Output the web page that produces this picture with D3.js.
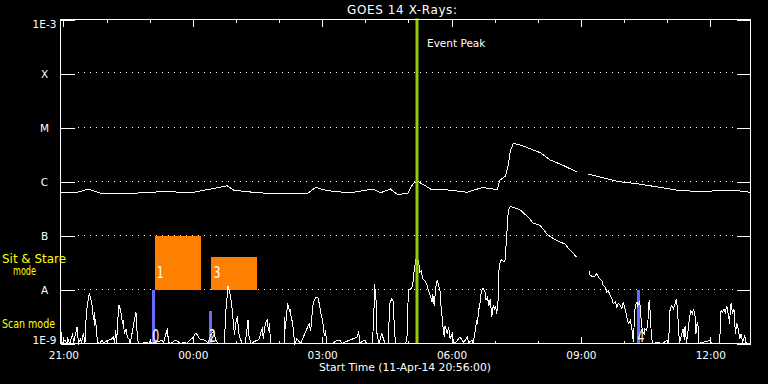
<!DOCTYPE html>
<html>
<head>
<meta charset="utf-8">
<script src="https://cdn.jsdelivr.net/npm/d3@7"></script>
<style>
  html, body { margin: 0; padding: 0; background: #000; }
  svg { display: block; }
  text { font-family: "DejaVu Sans", sans-serif; fill: #fff; }
</style>
</head>
<body>
<div id="chart"></div>
<script>
// start of plot window, length in minutes
var startTime = "2014-04-11T20:56:00Z"
var spanMinutes = 960

// y ticks (W/m^2, log10) and their labels
var yTickLevels = [-9, -8, -7, -6, -5, -4, -3]
var yTickLabels = ["1E-9", "A", "B", "C", "M", "X", "1E-3"]
var gridLevels = [-8, -7, -6, -5, -4]

// GOES long channel: [minutes since start, log10 flux], null = data gap
var longChannel = [
  [0,-6.20],[21,-6.21],[39,-6.14],[56,-6.22],[98,-6.22],[139,-6.19],[185,-6.20],[232,-6.08],
  [241,-6.16],[260,-6.19],[288,-6.22],[344,-6.22],[355,-6.11],[371,-6.17],[403,-6.21],[435,-6.14],
  [445,-6.21],[459,-6.14],[469,-6.24],[483,-6.22],[491,-6.03],[497,-6.00],[504,-6.05],[515,-6.14],
  [542,-6.16],[566,-6.20],[587,-6.11],[608,-6.15],[611,-5.98],[619,-5.90],[623,-5.70],[626,-5.42],
  [630,-5.30],[637,-5.31],[651,-5.38],[668,-5.47],[681,-5.60],[699,-5.70],[718,-5.82],null,
  [734,-5.86],[755,-5.93],[775,-6.00],[802,-6.04],[830,-6.10],[858,-6.16],[890,-6.19],[914,-6.17],
  [941,-6.17],[960,-6.20]
]

// GOES short channel: [minutes since start, log10 flux]
var shortChannel = [
  [0,-8.67],[2,-9],[6,-8.94],[9,-9],[10,-8.91],[13,-9],[17,-8.81],[18,-9],[23,-8.70],[25,-9],
  [28,-8.91],[29,-9],[32,-8.80],[34,-9],[36,-8.42],[40,-8.07],[41,-8.11],[43,-8.23],[44,-8.30],
  [46,-8.57],[47,-8.42],[48,-8.67],[49,-8.54],[50,-8.81],[52,-8.98],[54,-9],[58,-8.94],[60,-9],
  [65,-8.94],[70,-8.93],[74,-8.88],[75,-9],[77,-8.76],[78,-9],[81,-8.28],[83,-8.36],[85,-8.48],
  [86,-8.63],[87,-8.57],[89,-8.82],[91,-8.73],[93,-8.88],[95,-8.91],[97,-9],[105,-8.41],[106,-8.70],
  [108,-8.98],[110,-9],[121,-8.98],[123,-9],[125,-8.94],[127,-9],[142,-8.94],[143,-9],[149,-8.71],
  [150,-8.98],[153,-9],[160,-8.94],[165,-8.98],[167,-9],[173,-8.98],[175,-9],[185,-8.88],[188,-8.81],
  [190,-8.83],[193,-8.91],[197,-8.93],[202,-8.94],[205,-9],[210,-8.81],[213,-8.78],[216,-8.94],
  [218,-8.98],[220,-9],[228,-9],[230,-8.40],[232,-8.11],[233,-7.94],[235,-8.02],[237,-8.17],
  [238,-8.26],[240,-8.54],[242,-8.85],[244,-8.61],[246,-8.50],[248,-8.80],[250,-8.91],[253,-9],
  [257,-9],[261,-8.56],[262,-8.85],[265,-9],[270,-8.96],[276,-8.93],[281,-8.70],[282,-8.91],
  [285,-8.63],[288,-8.56],[289,-8.76],[291,-8.63],[292,-9],[305,-9],[311,-9],[312,-8.51],[313,-8.73],
  [314,-8.54],[316,-8.26],[318,-8.36],[319,-8.42],[320,-8.37],[321,-8.54],[323,-8.60],[324,-8.79],
  [326,-9],[329,-8.91],[334,-9],[346,-8.63],[348,-8.76],[349,-8.63],[351,-8.30],[353,-8.19],
  [356,-8.14],[358,-8.15],[360,-8.26],[362,-8.42],[363,-8.48],[365,-8.60],[367,-8.85],[369,-8.76],
  [370,-9],[378,-9],[385,-8.94],[389,-8.94],[391,-9],[413,-8.88],[415,-8.77],[416,-9],[422,-8.94],
  [424,-8.94],[426,-9],[434,-9],[436,-8.45],[437,-7.89],[439,-8.20],[440,-8.79],[443,-9],[447,-8.82],
  [450,-8.94],[452,-9],[456,-9],[458,-8.26],[460,-8.20],[461,-8.17],[463,-8.23],[464,-8.57],[466,-9],
  [480,-9],[482,-8.91],[484,-8.02],[487,-7.99],[489,-7.96],[491,-7.83],[492,-7.65],[494,-7.49],
  [495,-7.40],[498,-7.46],[500,-7.68],[502,-7.65],[504,-7.80],[508,-7.86],[510,-7.92],[512,-8.02],
  [515,-8.14],[517,-8.23],[518,-8.08],[520,-8.30],[522,-7.96],[524,-7.83],[526,-7.92],[528,-8.02],
  [529,-8.26],[531,-8.51],[532,-8.67],[534,-8.88],[535,-8.67],[538,-8.82],[540,-8.70],[542,-8.91],
  [545,-8.82],[547,-8.98],[549,-9],[554,-8.91],[556,-8.88],[561,-8.98],[566,-8.88],[568,-8.98],
  [573,-8.94],[574,-9],[577,-8.76],[579,-8.57],[580,-8.63],[582,-8.36],[583,-8.33],[585,-8.08],
  [586,-8.02],[588,-7.97],[591,-8.05],[592,-8.20],[594,-8.14],[596,-8.30],[598,-8.17],[600,-8.51],
  [602,-8.30],[604,-8.36],[605,-8.30],[607,-8.45],[609,-8.17],[610,-7.65],[612,-7.47],[614,-7.45],
  [617,-7.49],[619,-7.43],[620,-7.15],[622,-6.78],[623,-6.53],[626,-6.46],[630,-6.48],[635,-6.50],
  [640,-6.53],[644,-6.58],[649,-6.64],[654,-6.71],[658,-6.78],[663,-6.79],[667,-6.81],[672,-6.89],
  [677,-6.98],[686,-7.06],[695,-7.12],[702,-7.16],[707,-7.24],[712,-7.31],[718,-7.40],null,
  [735,-7.65],[737,-7.74],[742,-7.77],[746,-7.71],[750,-7.80],[753,-7.83],[755,-7.92],[758,-7.96],
  [760,-8.05],[762,-8.02],[765,-8.11],[767,-8.17],[769,-8.26],[772,-8.23],[774,-8.33],[776,-8.26],
  [779,-8.30],[781,-8.36],[783,-8.23],[786,-8.39],[788,-8.51],[790,-8.63],[793,-8.57],[795,-8.73],
  [797,-8.98],[799,-8.39],[800,-8.30],[802,-8.23],[803,-8.30],[806,-8.23],[807,-8.45],[809,-8.70],
  [810,-8.79],[812,-8.82],[813,-8.73],[815,-8.76],[817,-8.67],[818,-8.39],[819,-8.19],[821,-8.51],
  [822,-8.88],[824,-9],[830,-8.98],[837,-9],[844,-8.94],[846,-9],[848,-8.39],[850,-8.30],[853,-8.36],
  [855,-8.26],[857,-8.17],[858,-8.33],[860,-8.70],[861,-9],[866,-8.73],[868,-8.94],[869,-8.67],
  [871,-9],[875,-8.54],[877,-8.39],[879,-8.45],[881,-8.36],[883,-8.51],[884,-8.82],[886,-8.60],
  [887,-8.67],[888,-9],[904,-8.94],[906,-9],[917,-9],[919,-8.39],[921,-8.42],[923,-8.36],[925,-8.42],
  [927,-8.30],[929,-8.45],[931,-8.63],[932,-8.33],[933,-8.26],[935,-8.45],[937,-8.36],[939,-8.82],
  [941,-8.63],[943,-8.73],[945,-8.91],[947,-8.82],[949,-8.98],[952,-8.85],[954,-9],[960,-9]
]

// sit & stare observations (orange boxes)
var stareStart = [131, 210]
var stareEnd = [195, 274]
var stareTop = [-7.0, -7.39]
var stareLabels = ["1", "3"]

// scan mode observations (blue bars)
var scanTime = [129, 208, 804]
var scanTop = [-8.0, -8.39, -8.0]
var scanLabels = ["0", "2", "4"]

var eventPeak = 496

var width = 768, height = 384
var plotLeft = 60.5, plotRight = 750.5, plotTop = 19.5, plotBottom = 343.5

var t0 = new Date(startTime)
function toDate(m){
    return new Date(t0.getTime() + m * 60000)
}

var x = d3.scaleUtc()
    .domain([t0, toDate(spanMinutes)])
    .range([plotLeft, plotRight])
var y = d3.scaleLog()
    .domain([1e-9, 1e-3])
    .range([plotBottom, plotTop])

var svg = d3.select("#chart").append("svg")
    .attr("width", width)
    .attr("height", height)

svg.append("rect")
    .attr("width", width)
    .attr("height", height)
    .attr("fill", "#000")

// dotted grid lines
svg.append("g").selectAll("line")
    .data(gridLevels)
  .enter()
    .append("line")
    .attr("x1", plotLeft + 17)
    .attr("x2", plotRight - 15)
    .attr("y1", function(d){ return Math.round(y(Math.pow(10, d))) - 0.5 })
    .attr("y2", function(d){ return Math.round(y(Math.pow(10, d))) - 0.5 })
    .attr("stroke", "#fff")
    .attr("stroke-dasharray", "1,5")
    .attr("shape-rendering", "crispEdges")

// orange sit & stare boxes
svg.append("g").selectAll("rect")
    .data(stareStart)
  .enter()
    .append("rect")
    .attr("x", function(d){ return x(toDate(d)) })
    .attr("width", function(d,i){ return x(toDate(stareEnd[i])) - x(toDate(d)) })
    .attr("y", function(d,i){ return y(Math.pow(10, stareTop[i])) })
    .attr("height", function(d,i){ return y(1e-8) - y(Math.pow(10, stareTop[i])) })
    .attr("fill", "#ff8000")
    .attr("shape-rendering", "crispEdges")

svg.append("g").selectAll("text")
    .data(stareLabels)
  .enter()
    .append("text")
    .attr("x", function(d,i){ return x(toDate(stareStart[i])) + 2 })
    .attr("y", y(1e-8) - 11.5)
    .attr("textLength", 7)
    .attr("lengthAdjust", "spacingAndGlyphs")
    .style("font-size", "16px")
    .text(function(d){ return d })

// blue scan bars
svg.append("g").selectAll("rect")
    .data(scanTime)
  .enter()
    .append("rect")
    .attr("x", function(d){ return x(toDate(d)) - 1.5 })
    .attr("width", 3)
    .attr("y", function(d,i){ return y(Math.pow(10, scanTop[i])) })
    .attr("height", function(d,i){ return plotBottom - y(Math.pow(10, scanTop[i])) })
    .attr("fill", "#6a6aff")
    .attr("shape-rendering", "crispEdges")

// data curves
var line = d3.line()
    .defined(function(d){ return d != null })
    .x(function(d){ return x(toDate(d[0])) })
    .y(function(d){ return y(Math.pow(10, d[1])) })

svg.append("path")
    .datum(longChannel)
    .attr("d", line)
    .attr("fill", "none")
    .attr("stroke", "#fff")
    .attr("stroke-width", 1)
    .attr("shape-rendering", "crispEdges")

svg.append("path")
    .datum(shortChannel)
    .attr("d", line)
    .attr("fill", "none")
    .attr("stroke", "#fff")
    .attr("stroke-width", 1)
    .attr("shape-rendering", "crispEdges")

svg.append("g").selectAll("text")
    .data(scanLabels)
  .enter()
    .append("text")
    .attr("x", function(d,i){ return x(toDate(scanTime[i])) - 1 })
    .attr("y", plotBottom - 2)
    .attr("textLength", 7)
    .attr("lengthAdjust", "spacingAndGlyphs")
    .style("font-size", "17px")
    .text(function(d){ return d })

// event peak marker
svg.append("line")
    .attr("x1", x(toDate(eventPeak)))
    .attr("x2", x(toDate(eventPeak)))
    .attr("y1", plotTop - 1)
    .attr("y2", plotBottom)
    .attr("stroke", "#99cc00")
    .attr("stroke-width", 3)

svg.append("text")
    .attr("x", x(toDate(eventPeak)) + 10)
    .attr("y", 46.5)
    .style("font-size", "10.5px")
    .text("Event Peak")

// frame
svg.append("rect")
    .attr("x", plotLeft)
    .attr("y", plotTop)
    .attr("width", plotRight - plotLeft)
    .attr("height", plotBottom - plotTop)
    .attr("fill", "none")
    .attr("stroke", "#fff")
    .attr("shape-rendering", "crispEdges")

function styleAxis(g){
    g.select(".domain").remove()
    g.selectAll("line").attr("stroke", "#fff").attr("shape-rendering", "crispEdges")
    g.selectAll("text").attr("fill", "#fff").style("font-family", "DejaVu Sans").style("font-size", "10.5px")
}

// y axes
svg.append("g")
    .attr("transform", "translate(" + plotLeft + ",0)")
    .call(d3.axisLeft(y)
        .tickValues(yTickLevels.map(function(d){ return Math.pow(10, d) }))
        .tickSize(-14)
        .tickPadding(16)
        .tickFormat(function(d,i){ return yTickLabels[i] }))
    .call(styleAxis)
    .call(function(g){
        g.selectAll("text")
            .attr("text-anchor", "middle")
            .attr("dy", function(d,i){
                if (i == 0) return "0em"
                if (i == yTickLabels.length - 1) return "0.72em"
                return "0.4em"
            })
    })

svg.append("g")
    .attr("transform", "translate(" + plotRight + ",0)")
    .call(d3.axisRight(y)
        .tickValues(yTickLevels.map(function(d){ return Math.pow(10, d) }))
        .tickSize(-14)
        .tickFormat(""))
    .call(styleAxis)

// time axes
svg.append("g")
    .attr("transform", "translate(0," + plotBottom + ")")
    .call(d3.axisBottom(x).ticks(d3.utcHour.every(1)).tickSize(-3).tickFormat(""))
    .call(styleAxis)

svg.append("g")
    .attr("transform", "translate(0," + plotBottom + ")")
    .call(d3.axisBottom(x)
        .ticks(d3.utcHour.every(3))
        .tickSize(-7)
        .tickPadding(8)
        .tickFormat(d3.utcFormat("%H:%M")))
    .call(styleAxis)

svg.append("g")
    .attr("transform", "translate(0," + plotTop + ")")
    .call(d3.axisTop(x).ticks(d3.utcHour.every(1)).tickSize(-3).tickFormat(""))
    .call(styleAxis)

svg.append("g")
    .attr("transform", "translate(0," + plotTop + ")")
    .call(d3.axisTop(x).ticks(d3.utcHour.every(3)).tickSize(-7).tickFormat(""))
    .call(styleAxis)

// titles
svg.append("text")
    .attr("x", 402)
    .attr("y", 13.5)
    .attr("text-anchor", "middle")
    .attr("textLength", 110)
    .style("font-size", "12px")
    .text("GOES 14 X-Rays:")

svg.append("text")
    .attr("x", 405)
    .attr("y", 371)
    .attr("text-anchor", "middle")
    .attr("textLength", 172)
    .style("font-size", "10.8px")
    .text("Start Time (11-Apr-14 20:56:00)")

// mode labels
svg.append("text")
    .attr("x", 2)
    .attr("y", 262.5)
    .attr("textLength", 64)
    .attr("lengthAdjust", "spacingAndGlyphs")
    .style("fill", "#ffff00")
    .style("font-size", "12px")
    .text("Sit & Stare")

svg.append("text")
    .attr("x", 13)
    .attr("y", 275)
    .attr("textLength", 23)
    .attr("lengthAdjust", "spacingAndGlyphs")
    .style("fill", "#ffff00")
    .style("font-size", "12px")
    .text("mode")

svg.append("text")
    .attr("x", 2)
    .attr("y", 327.5)
    .attr("textLength", 53)
    .attr("lengthAdjust", "spacingAndGlyphs")
    .style("fill", "#ffff00")
    .style("font-size", "12px")
    .text("Scan mode")
</script>
</body>
</html>
